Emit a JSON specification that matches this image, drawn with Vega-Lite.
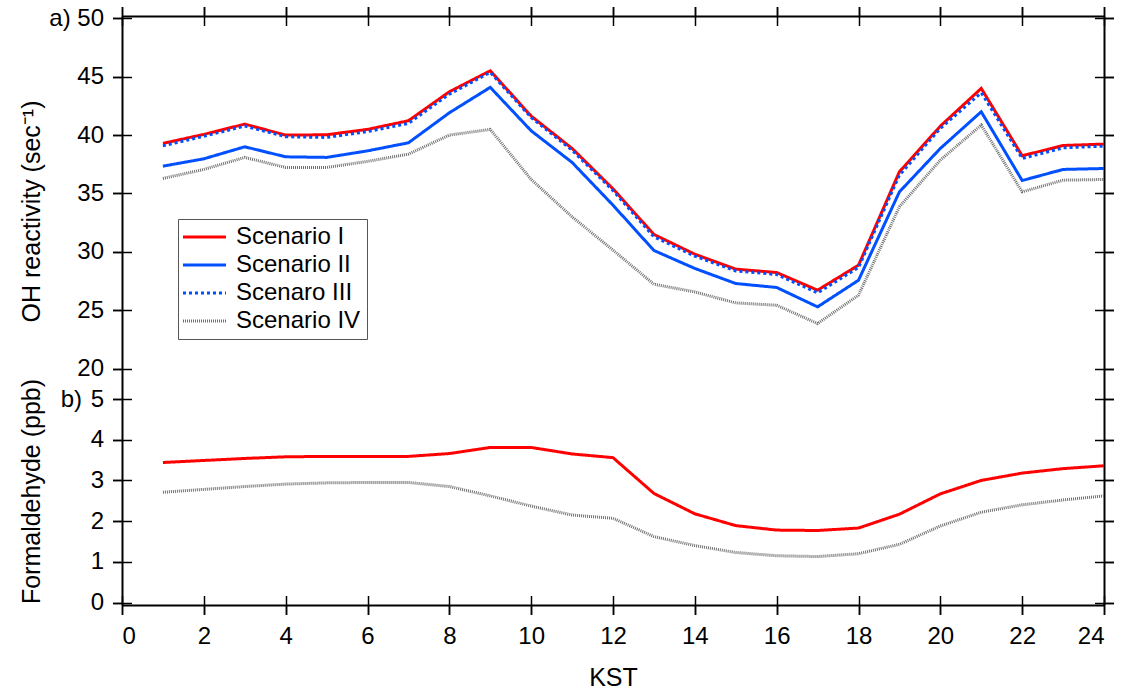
{
  "$schema": "https://vega.github.io/schema/vega-lite/v6.json",
  "background": "white",
  "padding": {"left": 18, "top": 5, "right": 5, "bottom": 3},
  "bounds": "flush",
  "spacing": 0,
  "config": {
    "font": "Liberation Sans",
    "view": {"stroke": null},
    "axis": {
      "grid": false,
      "domainColor": "black",
      "domainWidth": 2,
      "tickColor": "black",
      "tickWidth": 1.5,
      "labelColor": "black",
      "labelFont": "Liberation Sans",
      "labelFontSize": 24,
      "titleFont": "Liberation Sans",
      "titleFontSize": 25,
      "titleFontWeight": "normal",
      "titleColor": "black"
    }
  },
  "datasets": {
    "oh": [
      {"hour":1,"scenario":"Scenario IV","value":36.29},{"hour":2,"scenario":"Scenario IV","value":37.06},{"hour":3,"scenario":"Scenario IV","value":38.09},{"hour":4,"scenario":"Scenario IV","value":37.23},{"hour":5,"scenario":"Scenario IV","value":37.23},{"hour":6,"scenario":"Scenario IV","value":37.75},{"hour":7,"scenario":"Scenario IV","value":38.37},{"hour":8,"scenario":"Scenario IV","value":40.0},{"hour":9,"scenario":"Scenario IV","value":40.49},{"hour":10,"scenario":"Scenario IV","value":36.2},{"hour":11,"scenario":"Scenario IV","value":33.0},{"hour":12,"scenario":"Scenario IV","value":30.15},{"hour":13,"scenario":"Scenario IV","value":27.23},{"hour":14,"scenario":"Scenario IV","value":26.57},{"hour":15,"scenario":"Scenario IV","value":25.63},{"hour":16,"scenario":"Scenario IV","value":25.43},{"hour":17,"scenario":"Scenario IV","value":23.86},{"hour":18,"scenario":"Scenario IV","value":26.29},{"hour":19,"scenario":"Scenario IV","value":33.86},{"hour":20,"scenario":"Scenario IV","value":37.86},{"hour":21,"scenario":"Scenario IV","value":40.86},{"hour":22,"scenario":"Scenario IV","value":35.14},{"hour":23,"scenario":"Scenario IV","value":36.14},{"hour":24,"scenario":"Scenario IV","value":36.2},
      {"hour":1,"scenario":"Scenario II","value":37.34},{"hour":2,"scenario":"Scenario II","value":37.97},{"hour":3,"scenario":"Scenario II","value":39.0},{"hour":4,"scenario":"Scenario II","value":38.14},{"hour":5,"scenario":"Scenario II","value":38.09},{"hour":6,"scenario":"Scenario II","value":38.65},{"hour":7,"scenario":"Scenario II","value":39.34},{"hour":8,"scenario":"Scenario II","value":41.91},{"hour":9,"scenario":"Scenario II","value":44.09},{"hour":10,"scenario":"Scenario II","value":40.37},{"hour":11,"scenario":"Scenario II","value":37.66},{"hour":12,"scenario":"Scenario II","value":34.0},{"hour":13,"scenario":"Scenario II","value":30.12},{"hour":14,"scenario":"Scenario II","value":28.58},{"hour":15,"scenario":"Scenario II","value":27.29},{"hour":16,"scenario":"Scenario II","value":26.95},{"hour":17,"scenario":"Scenario II","value":25.29},{"hour":18,"scenario":"Scenario II","value":27.57},{"hour":19,"scenario":"Scenario II","value":35.14},{"hour":20,"scenario":"Scenario II","value":38.86},{"hour":21,"scenario":"Scenario II","value":42.0},{"hour":22,"scenario":"Scenario II","value":36.11},{"hour":23,"scenario":"Scenario II","value":37.06},{"hour":24,"scenario":"Scenario II","value":37.14},
      {"hour":1,"scenario":"Scenario I","value":39.29},{"hour":2,"scenario":"Scenario I","value":40.06},{"hour":3,"scenario":"Scenario I","value":40.94},{"hour":4,"scenario":"Scenario I","value":40.0},{"hour":5,"scenario":"Scenario I","value":40.03},{"hour":6,"scenario":"Scenario I","value":40.49},{"hour":7,"scenario":"Scenario I","value":41.23},{"hour":8,"scenario":"Scenario I","value":43.71},{"hour":9,"scenario":"Scenario I","value":45.51},{"hour":10,"scenario":"Scenario I","value":41.63},{"hour":11,"scenario":"Scenario I","value":38.86},{"hour":12,"scenario":"Scenario I","value":35.4},{"hour":13,"scenario":"Scenario I","value":31.49},{"hour":14,"scenario":"Scenario I","value":29.8},{"hour":15,"scenario":"Scenario I","value":28.52},{"hour":16,"scenario":"Scenario I","value":28.23},{"hour":17,"scenario":"Scenario I","value":26.72},{"hour":18,"scenario":"Scenario I","value":28.86},{"hour":19,"scenario":"Scenario I","value":36.86},{"hour":20,"scenario":"Scenario I","value":40.77},{"hour":21,"scenario":"Scenario I","value":44.0},{"hour":22,"scenario":"Scenario I","value":38.23},{"hour":23,"scenario":"Scenario I","value":39.11},{"hour":24,"scenario":"Scenario I","value":39.23},
      {"hour":1,"scenario":"Scenaro III","value":39.08},{"hour":2,"scenario":"Scenaro III","value":39.9},{"hour":3,"scenario":"Scenaro III","value":40.77},{"hour":4,"scenario":"Scenaro III","value":39.86},{"hour":5,"scenario":"Scenaro III","value":39.8},{"hour":6,"scenario":"Scenaro III","value":40.3},{"hour":7,"scenario":"Scenaro III","value":41.0},{"hour":8,"scenario":"Scenaro III","value":43.5},{"hour":9,"scenario":"Scenaro III","value":45.37},{"hour":10,"scenario":"Scenaro III","value":41.5},{"hour":11,"scenario":"Scenaro III","value":38.7},{"hour":12,"scenario":"Scenaro III","value":35.25},{"hour":13,"scenario":"Scenaro III","value":31.29},{"hour":14,"scenario":"Scenaro III","value":29.63},{"hour":15,"scenario":"Scenaro III","value":28.37},{"hour":16,"scenario":"Scenaro III","value":28.06},{"hour":17,"scenario":"Scenaro III","value":26.49},{"hour":18,"scenario":"Scenaro III","value":28.66},{"hour":19,"scenario":"Scenaro III","value":36.57},{"hour":20,"scenario":"Scenaro III","value":40.57},{"hour":21,"scenario":"Scenaro III","value":43.63},{"hour":22,"scenario":"Scenaro III","value":38.0},{"hour":23,"scenario":"Scenaro III","value":38.91},{"hour":24,"scenario":"Scenaro III","value":39.06}
    ],
    "hcho": [
      {"hour":1,"scenario":"Scenario IV","value":2.71},{"hour":2,"scenario":"Scenario IV","value":2.78},{"hour":3,"scenario":"Scenario IV","value":2.85},{"hour":4,"scenario":"Scenario IV","value":2.91},{"hour":5,"scenario":"Scenario IV","value":2.94},{"hour":6,"scenario":"Scenario IV","value":2.95},{"hour":7,"scenario":"Scenario IV","value":2.95},{"hour":8,"scenario":"Scenario IV","value":2.85},{"hour":9,"scenario":"Scenario IV","value":2.62},{"hour":10,"scenario":"Scenario IV","value":2.37},{"hour":11,"scenario":"Scenario IV","value":2.15},{"hour":12,"scenario":"Scenario IV","value":2.07},{"hour":13,"scenario":"Scenario IV","value":1.62},{"hour":14,"scenario":"Scenario IV","value":1.4},{"hour":15,"scenario":"Scenario IV","value":1.23},{"hour":16,"scenario":"Scenario IV","value":1.15},{"hour":17,"scenario":"Scenario IV","value":1.13},{"hour":18,"scenario":"Scenario IV","value":1.2},{"hour":19,"scenario":"Scenario IV","value":1.43},{"hour":20,"scenario":"Scenario IV","value":1.88},{"hour":21,"scenario":"Scenario IV","value":2.22},{"hour":22,"scenario":"Scenario IV","value":2.4},{"hour":23,"scenario":"Scenario IV","value":2.52},{"hour":24,"scenario":"Scenario IV","value":2.62},
      {"hour":1,"scenario":"Scenario I","value":3.44},{"hour":2,"scenario":"Scenario I","value":3.49},{"hour":3,"scenario":"Scenario I","value":3.54},{"hour":4,"scenario":"Scenario I","value":3.58},{"hour":5,"scenario":"Scenario I","value":3.59},{"hour":6,"scenario":"Scenario I","value":3.59},{"hour":7,"scenario":"Scenario I","value":3.59},{"hour":8,"scenario":"Scenario I","value":3.66},{"hour":9,"scenario":"Scenario I","value":3.81},{"hour":10,"scenario":"Scenario I","value":3.81},{"hour":11,"scenario":"Scenario I","value":3.65},{"hour":12,"scenario":"Scenario I","value":3.56},{"hour":13,"scenario":"Scenario I","value":2.68},{"hour":14,"scenario":"Scenario I","value":2.18},{"hour":15,"scenario":"Scenario I","value":1.89},{"hour":16,"scenario":"Scenario I","value":1.78},{"hour":17,"scenario":"Scenario I","value":1.77},{"hour":18,"scenario":"Scenario I","value":1.83},{"hour":19,"scenario":"Scenario I","value":2.17},{"hour":20,"scenario":"Scenario I","value":2.67},{"hour":21,"scenario":"Scenario I","value":3.0},{"hour":22,"scenario":"Scenario I","value":3.18},{"hour":23,"scenario":"Scenario I","value":3.29},{"hour":24,"scenario":"Scenario I","value":3.36}
    ]
  },
  "vconcat": [
    {
      "width": 982,
      "height": 383,
      "data": {"name": "oh"},
      "resolve": {"axis": {"x": "independent", "y": "independent"}},
      "layer": [
        {
          "mark": {"type": "line", "strokeJoin": "miter"},
          "encoding": {
            "x": {"field": "hour", "type": "quantitative", "scale": {"domain": [0, 24], "nice": false, "zero": false},
                  "axis": {"orient": "top", "values": [0,2,4,6,8,10,12,14,16,18,20,22,24], "labels": false, "title": null, "tickSize": 9.5, "domain": true}},
            "y": {"field": "value", "type": "quantitative", "scale": {"domain": [17.4, 50.2], "nice": false, "zero": false},
                  "axis": {"orient": "left", "values": [20,25,30,35,40,45,50], "tickSize": 9.5, "labelPadding": 9,
                           "labelExpr": "datum.value == 50 ? 'a)  50' : datum.label",
                           "title": "OH reactivity (sec⁻¹)", "titleX": -83, "titleY": 195, "titleBaseline": "alphabetic", "titleAlign": "center"}},
            "color": {"field": "scenario", "type": "nominal",
                      "scale": {"domain": ["Scenario I", "Scenario II", "Scenaro III", "Scenario IV"], "range": ["#ff0000", "#0050ff", "#0050ff", "#707070"]},
                      "legend": {"orient": "none", "legendX": 56, "legendY": 203, "title": null, "symbolType": "M-1.68,0H3.87", "symbolSize": 240, "labelFontSize": 24, "labelFont": "Liberation Sans", "labelColor": "black", "rowPadding": 4, "labelOffset": 28, "padding": 6, "strokeColor": "#555555", "fillColor": "white", "cornerRadius": 0}},
            "strokeDash": {"field": "scenario", "type": "nominal",
                           "scale": {"domain": ["Scenario I", "Scenario II", "Scenaro III", "Scenario IV"], "range": [[1, 0], [1, 0], [3, 3], [1, 1]]}},
            "strokeWidth": {"field": "scenario", "type": "nominal",
                            "scale": {"domain": ["Scenario I", "Scenario II", "Scenaro III", "Scenario IV"], "range": [3, 3, 2.8, 2.5]}}
          }
        },
        {
          "mark": {"type": "point", "opacity": 0},
          "encoding": {
            "x": {"field": "hour", "type": "quantitative", "scale": {"domain": [0, 24], "nice": false, "zero": false},
                  "axis": {"orient": "top", "offset": -9.5, "tickSize": 19, "domain": false, "labels": false, "title": null, "values": [0,2,4,6,8,10,12,14,16,18,20,22,24]}},
            "y": {"field": "value", "type": "quantitative", "scale": {"domain": [17.4, 50.2], "nice": false, "zero": false},
                  "axis": {"orient": "left", "offset": -9.5, "tickSize": 19, "domain": false, "labels": false, "title": null, "values": [20,25,30,35,40,45,50]}}
          }
        },
        {
          "mark": {"type": "point", "opacity": 0},
          "encoding": {
            "x": {"field": "hour", "type": "quantitative", "scale": {"domain": [0, 24], "nice": false, "zero": false}, "axis": null},
            "y": {"field": "value", "type": "quantitative", "scale": {"domain": [17.4, 50.2], "nice": false, "zero": false},
                  "axis": {"orient": "right", "tickSize": 9.5, "domain": true, "labels": false, "title": null, "values": [20,25,30,35,40,45,50]}}
          }
        },
        {
          "mark": {"type": "point", "opacity": 0},
          "encoding": {
            "x": {"field": "hour", "type": "quantitative", "scale": {"domain": [0, 24], "nice": false, "zero": false}, "axis": null},
            "y": {"field": "value", "type": "quantitative", "scale": {"domain": [17.4, 50.2], "nice": false, "zero": false},
                  "axis": {"orient": "right", "offset": -9.5, "tickSize": 19, "domain": false, "labels": false, "title": null, "values": [20,25,30,35,40,45,50]}}
          }
        }
      ]
    },
    {
      "width": 982,
      "height": 206,
      "data": {"name": "hcho"},
      "resolve": {"axis": {"x": "independent", "y": "independent"}},
      "layer": [
        {
          "mark": {"type": "line", "strokeJoin": "round"},
          "encoding": {
            "x": {"field": "hour", "type": "quantitative", "scale": {"domain": [0, 24], "nice": false, "zero": false},
                  "axis": {"orient": "bottom", "values": [0,2,4,6,8,10,12,14,16,18,20,22,24], "tickSize": 9.5, "labelPadding": 10, "title": "KST", "titlePadding": 17}},
            "y": {"field": "value", "type": "quantitative", "scale": {"domain": [-0.06, 5], "nice": false, "zero": false},
                  "axis": {"orient": "left", "values": [0,1,2,3,4,5], "tickSize": 9.5, "labelPadding": 9,
                           "labelExpr": "datum.value == 5 ? 'b)  \u200a5' : datum.label",
                           "title": "Formaldehyde (ppb)", "titleX": -83, "titleY": 92, "titleBaseline": "alphabetic", "titleAlign": "center"}},
            "color": {"field": "scenario", "type": "nominal",
                      "scale": {"domain": ["Scenario I", "Scenario II", "Scenaro III", "Scenario IV"], "range": ["#ff0000", "#0050ff", "#0050ff", "#707070"]}, "legend": null},
            "strokeDash": {"field": "scenario", "type": "nominal",
                           "scale": {"domain": ["Scenario I", "Scenario II", "Scenaro III", "Scenario IV"], "range": [[1, 0], [1, 0], [3, 3], [1, 1]]}, "legend": null},
            "strokeWidth": {"field": "scenario", "type": "nominal",
                            "scale": {"domain": ["Scenario I", "Scenario II", "Scenaro III", "Scenario IV"], "range": [3, 3, 2.8, 2.5]}, "legend": null}
          }
        },
        {
          "mark": {"type": "point", "opacity": 0},
          "encoding": {
            "x": {"field": "hour", "type": "quantitative", "scale": {"domain": [0, 24], "nice": false, "zero": false},
                  "axis": {"orient": "bottom", "offset": -9.5, "tickSize": 19, "domain": false, "labels": false, "title": null, "values": [0,2,4,6,8,10,12,14,16,18,20,22,24]}},
            "y": {"field": "value", "type": "quantitative", "scale": {"domain": [-0.06, 5], "nice": false, "zero": false},
                  "axis": {"orient": "left", "offset": -9.5, "tickSize": 19, "domain": false, "labels": false, "title": null, "values": [0,1,2,3,4,5]}}
          }
        },
        {
          "mark": {"type": "point", "opacity": 0},
          "encoding": {
            "x": {"field": "hour", "type": "quantitative", "scale": {"domain": [0, 24], "nice": false, "zero": false}, "axis": null},
            "y": {"field": "value", "type": "quantitative", "scale": {"domain": [-0.06, 5], "nice": false, "zero": false},
                  "axis": {"orient": "right", "tickSize": 9.5, "domain": true, "labels": false, "title": null, "values": [0,1,2,3,4,5]}}
          }
        },
        {
          "mark": {"type": "point", "opacity": 0},
          "encoding": {
            "x": {"field": "hour", "type": "quantitative", "scale": {"domain": [0, 24], "nice": false, "zero": false}, "axis": null},
            "y": {"field": "value", "type": "quantitative", "scale": {"domain": [-0.06, 5], "nice": false, "zero": false},
                  "axis": {"orient": "right", "offset": -9.5, "tickSize": 19, "domain": false, "labels": false, "title": null, "values": [0,1,2,3,4,5]}}
          }
        }
      ]
    }
  ]
}
